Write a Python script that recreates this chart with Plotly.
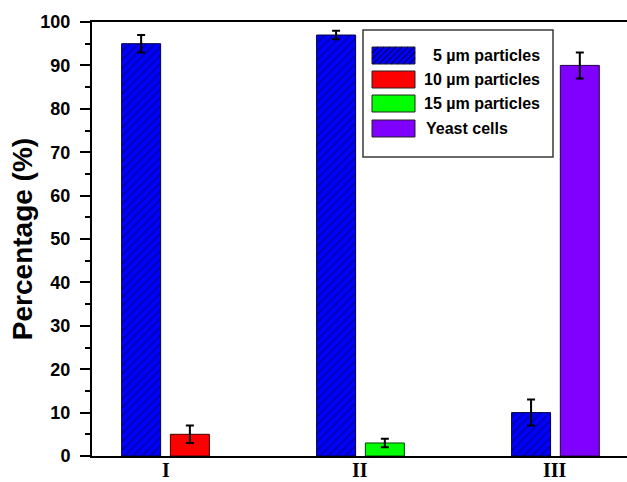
import plotly.graph_objects as go

categories = ["I", "II", "III"]

p5_cats = ["I", "II", "III"]
p5_vals = [95, 97, 10]
p5_err = [2, 1, 3]

p10_cats = ["I"]
p10_vals = [5]
p10_err = [2]

p15_cats = ["II"]
p15_vals = [3]
p15_err = [1]

yeast_cats = ["III"]
yeast_vals = [90]
yeast_err = [3]

legend_labels = ["5 \u00b5m particles", "10 \u00b5m particles", "15 \u00b5m particles", "Yeast cells"]
colors = ["#0000FF", "#FF0000", "#00FF00", "#7F00FF"]

W, H = 627, 482
ML, MR, MT, MB = 92, 0, 22, 26
PW, PH = W - ML - MR, H - MT - MB

BW = 0.2
err_style = dict(type="data", color="black", thickness=2, width=4, visible=True)

fig = go.Figure()
fig.add_trace(go.Bar(
    x=p5_cats, y=p5_vals, name=legend_labels[0], width=BW, offset=-0.225,
    marker=dict(color=colors[0], line=dict(color="#000040", width=1),
                pattern=dict(shape="/", fgcolor="#00006a", size=6, solidity=0.35)),
    error_y=dict(array=p5_err, **err_style)))
fig.add_trace(go.Bar(
    x=p10_cats, y=p10_vals, name=legend_labels[1], width=BW, offset=0.025,
    marker=dict(color=colors[1], line=dict(color="#400000", width=1)),
    error_y=dict(array=p10_err, **err_style)))
fig.add_trace(go.Bar(
    x=p15_cats, y=p15_vals, name=legend_labels[2], width=BW, offset=0.025,
    marker=dict(color=colors[2], line=dict(color="#004000", width=1)),
    error_y=dict(array=p15_err, **err_style)))
fig.add_trace(go.Bar(
    x=yeast_cats, y=yeast_vals, name=legend_labels[3], width=BW, offset=0.025,
    marker=dict(color=colors[3], line=dict(color="#200040", width=1)),
    error_y=dict(array=yeast_err, **err_style)))


def px_x(px):
    return (px - ML) / PW


def px_y(py):
    return (H - MB - py) / PH


shapes = []
# legend box
shapes.append(dict(type="rect", xref="paper", yref="paper",
                   x0=px_x(363), x1=px_x(553), y0=px_y(157), y1=px_y(30),
                   line=dict(color="#3a3a3a", width=1.5), fillcolor="white", layer="above"))
annotations = []
row_tops = [47, 71, 95, 120]
sx0, sx1, sh = 372, 415, 17
text_x = [431, 422, 422, 424]
for i, (lab, col) in enumerate(zip(legend_labels, colors)):
    t = row_tops[i]
    shapes.append(dict(type="rect", xref="paper", yref="paper",
                       x0=px_x(sx0), x1=px_x(sx1), y0=px_y(t + sh), y1=px_y(t),
                       line=dict(color="#222222", width=1), fillcolor=col, layer="above"))
    if i == 0:
        # hatch lines clipped to swatch
        step = 6
        k = sx0 - sh
        while k < sx1:
            xa, ya = k, t + sh
            xb, yb = k + sh, t
            if xa < sx0:
                ya = ya - (sx0 - xa)
                xa = sx0
            if xb > sx1:
                yb = yb + (xb - sx1)
                xb = sx1
            if xb > xa:
                shapes.append(dict(type="line", xref="paper", yref="paper",
                                   x0=px_x(xa), y0=px_y(ya), x1=px_x(xb), y1=px_y(yb),
                                   line=dict(color="#00006a", width=1.2), layer="above"))
            k += step
    annotations.append(dict(xref="paper", yref="paper", x=px_x(text_x[i]), y=px_y(t + sh / 2),
                            text=lab, showarrow=False, xanchor="left", yanchor="middle",
                            font=dict(family="Arial, Liberation Sans", size=16, color="black", weight="bold")))

# category labels placed at the x-axis category positions
for c in categories:
    annotations.append(dict(xref="x", yref="paper", x=c, y=px_y(481.5), text=c,
                            showarrow=False, xanchor="center", yanchor="bottom",
                            borderpad=0,
                            font=dict(family="Times New Roman, Liberation Serif", size=20,
                                      color="black", weight="bold")))

fig.update_layout(
    width=W, height=H,
    margin=dict(l=ML, r=MR, t=MT, b=MB, pad=0),
    barmode="overlay",
    showlegend=False,
    plot_bgcolor="white", paper_bgcolor="white",
    shapes=shapes, annotations=annotations,
    xaxis=dict(type="category", categoryorder="array", categoryarray=categories,
               range=[-0.377, 2.367], showline=True, linecolor="black", linewidth=2,
               mirror=True, ticks="", showgrid=False, zeroline=False, automargin=False,
               showticklabels=False),
    yaxis=dict(range=[0, 100], dtick=10, tick0=0, showline=True, linecolor="black", linewidth=2,
               ticks="outside", ticklen=10, tickwidth=2, tickcolor="black",
               showgrid=False, zeroline=False, ticklabelstandoff=6, automargin=False,
               minor=dict(dtick=5, ticks="outside", ticklen=5, tickwidth=2, tickcolor="black"),
               tickfont=dict(family="Arial, Liberation Sans", size=18, color="black", weight="bold"),
               title=dict(text="Percentage (%)", standoff=0,
                          font=dict(family="Arial, Liberation Sans", size=28, color="black",
                                    weight="bold"))),
)

fig.write_html("out.html")
